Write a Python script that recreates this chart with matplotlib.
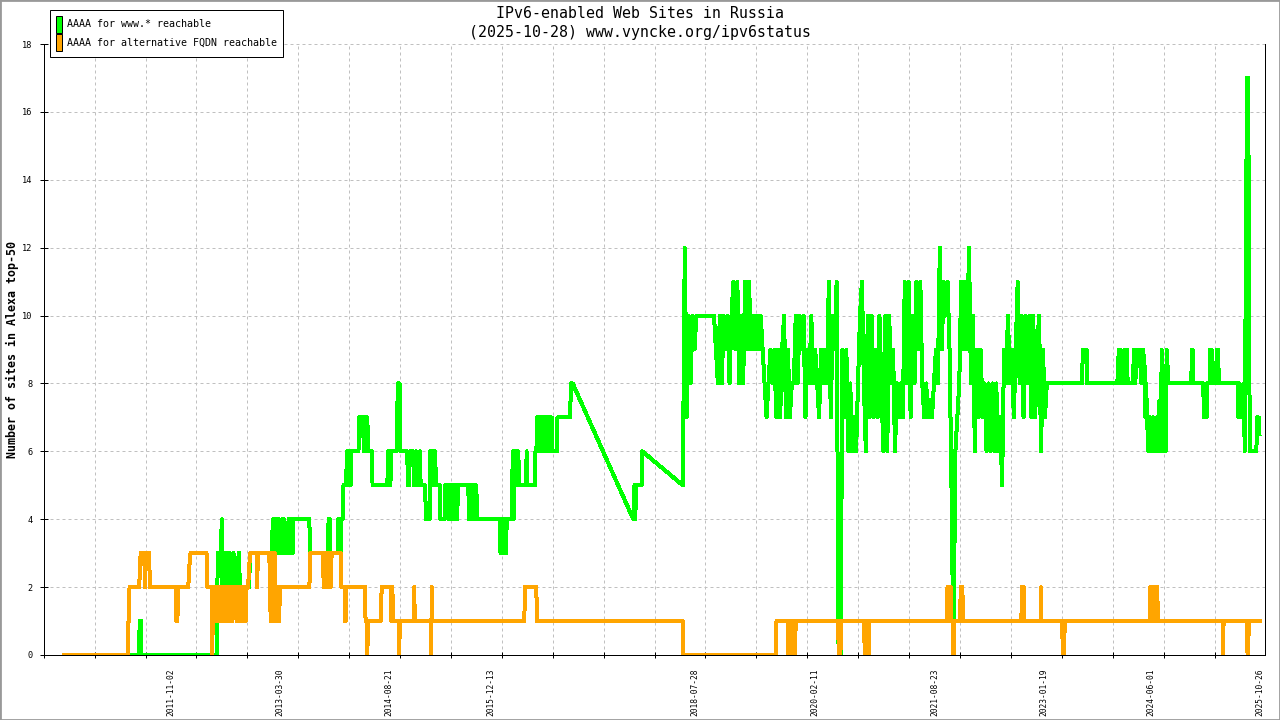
import numpy as np
import pandas as pd
import matplotlib
matplotlib.use('Agg')
import matplotlib.pyplot as plt
from matplotlib.patches import Patch, Rectangle
from matplotlib.ticker import FixedLocator, NullFormatter

plt.rcParams['font.family'] = ['DejaVu Sans Mono', 'DejaVu Sans']

# time is in decimal years
# green: AAAA for www.* reachable, 2010 -> start of 2018 (gap 2017-2018 is a straight line)
green_2010_2018 = [
    (2010.463, 0), (2011.423, 0), (2011.429, 0.5), (2011.439, 1), (2011.452, 1), (2011.456, 0),
    (2012.425, 0), (2012.438, 3), (2012.480, 3), (2012.489, 4), (2012.497, 2),
    (2012.512, 3), (2012.525, 2), (2012.538, 3), (2012.551, 2), (2012.564, 3), (2012.577, 2),
    (2012.596, 3), (2012.609, 2), (2012.641, 3), (2012.647, 2), (2012.699, 2), (2012.705, 3),
    (2012.715, 3), (2012.719, 2), (2012.840, 2), (2012.853, 3),
    (2013.135, 3), (2013.144, 4), (2013.154, 3), (2013.165, 4), (2013.175, 3), (2013.185, 4),
    (2013.195, 3), (2013.206, 4), (2013.216, 3), (2013.225, 4), (2013.232, 3), (2013.264, 3),
    (2013.270, 4), (2013.290, 4), (2013.296, 3), (2013.341, 3), (2013.347, 4), (2013.358, 3),
    (2013.368, 4), (2013.378, 3), (2013.388, 4), (2013.399, 3), (2013.409, 4), (2013.615, 4),
    (2013.620, 3), (2013.855, 3), (2013.861, 4), (2013.881, 4), (2013.885, 3), (2013.980, 3),
    (2013.987, 4), (2013.996, 3), (2014.006, 4), (2014.017, 3), (2014.027, 4), (2014.042, 4),
    (2014.053, 5), (2014.089, 5), (2014.094, 6), (2014.104, 5), (2014.114, 6), (2014.125, 5),
    (2014.135, 6), (2014.145, 5), (2014.156, 6), (2014.245, 6), (2014.252, 7), (2014.303, 7),
    (2014.314, 6), (2014.324, 7), (2014.334, 6), (2014.345, 7), (2014.359, 7), (2014.368, 6),
    (2014.415, 6), (2014.426, 5), (2014.616, 5), (2014.625, 6), (2014.635, 5), (2014.645, 6),
    (2014.655, 5), (2014.666, 6), (2014.734, 6), (2014.740, 7), (2014.753, 8), (2014.772, 8),
    (2014.783, 6), (2014.872, 6), (2014.879, 5), (2014.897, 5), (2014.903, 6), (2014.950, 6),
    (2014.956, 5), (2014.982, 5), (2014.987, 6), (2014.994, 5), (2015.028, 5), (2015.035, 6),
    (2015.043, 5), (2015.103, 5), (2015.109, 4), (2015.161, 4), (2015.167, 6), (2015.178, 5),
    (2015.188, 6), (2015.198, 5), (2015.208, 6), (2015.219, 5), (2015.229, 6), (2015.240, 5),
    (2015.292, 5), (2015.298, 4), (2015.352, 4), (2015.358, 5), (2015.398, 5), (2015.404, 4),
    (2015.424, 5), (2015.430, 4), (2015.449, 5), (2015.456, 4), (2015.478, 5), (2015.484, 4),
    (2015.503, 5), (2015.510, 4), (2015.527, 5), (2015.655, 5), (2015.665, 4), (2015.676, 5),
    (2015.686, 4), (2015.696, 5), (2015.706, 4), (2015.717, 5), (2015.727, 4), (2015.737, 5),
    (2015.747, 4), (2015.758, 5), (2015.768, 4), (2015.784, 4), (2016.062, 4), (2016.069, 3),
    (2016.080, 4), (2016.090, 3), (2016.100, 4), (2016.110, 3), (2016.121, 4), (2016.131, 3),
    (2016.141, 3), (2016.148, 4), (2016.212, 4), (2016.218, 5), (2016.229, 6), (2016.239, 4),
    (2016.249, 6), (2016.260, 5), (2016.270, 6), (2016.280, 5), (2016.293, 5), (2016.298, 6),
    (2016.306, 5), (2016.399, 5), (2016.404, 6), (2016.414, 5), (2016.511, 5), (2016.517, 6),
    (2016.530, 6), (2016.539, 7), (2016.549, 6), (2016.560, 7), (2016.570, 6), (2016.580, 7),
    (2016.590, 6), (2016.601, 7), (2016.611, 6), (2016.621, 7), (2016.632, 6), (2016.642, 7),
    (2016.652, 6), (2016.663, 7), (2016.673, 6), (2016.684, 7), (2016.694, 6), (2016.705, 7),
    (2016.715, 6), (2016.726, 7), (2016.736, 6), (2016.793, 6), (2016.800, 7), (2016.964, 7),
    (2016.972, 8), (2016.996, 8),
    (2017.774, 4), (2017.783, 4), (2017.789, 5), (2017.800, 4), (2017.809, 5), (2017.882, 5),
    (2017.890, 6), (2018.408, 5),
]

# green, busy period mid 2018 -> early 2023, one reading every 0.025 year
green_busy_start = 2018.41
green_busy_step = 0.025
green_busy = [
    5, 12, 7, 10, 8, 10, 9, 10, 10, 10,
    10, 10, 10, 10, 10, 10, 10, 9, 8, 10,
    8, 10, 9, 10, 8, 10, 11, 9, 11, 8,
    10, 8, 11, 9, 11, 9, 10, 9, 10, 9,
    10, 9, 8, 7, 8, 9, 8, 9, 7, 9,
    7, 9, 10, 7, 9, 7, 8, 8, 10, 8,
    10, 9, 10, 7, 9, 8, 10, 8, 9, 8,
    7, 9, 8, 9, 8, 11, 7, 10, 9, 11,
    0, 0, 9, 7, 9, 6, 8, 6, 7, 6,
    8, 10, 11, 8, 6, 10, 7, 10, 7, 9,
    7, 10, 8, 6, 10, 6, 10, 8, 9, 6,
    8, 7, 8, 7, 11, 8, 11, 7, 10, 8,
    11, 9, 11, 8, 7, 8, 7, 7.5, 7, 8,
    9, 8, 12, 9, 11, 10, 11, 9, 5, 0,
    6, 7, 8, 11, 9, 11, 9, 12, 8, 10,
    6, 9, 7, 9, 7, 8, 6, 8, 6, 8,
    6, 8, 6, 7, 5, 9, 8, 10, 8, 9,
    7, 9, 11, 8, 10, 7, 10, 8, 10, 7,
    10, 7, 9, 10, 6, 9, 7, 8,
]

# green, 2023 -> 2025-10-28
green_2023_2025 = [
    (2023.539, 8), (2023.545, 9), (2023.596, 9), (2023.602, 8),
    (2023.990, 8), (2023.998, 8.5), (2024.010, 9), (2024.032, 9), (2024.040, 8),
    (2024.087, 8), (2024.090, 9), (2024.114, 9), (2024.117, 8.5), (2024.122, 8),
    (2024.194, 8), (2024.200, 9), (2024.220, 8), (2024.240, 9), (2024.260, 8.5),
    (2024.280, 9), (2024.300, 8), (2024.320, 9), (2024.340, 8.5),
    (2024.350, 7), (2024.360, 8), (2024.370, 7), (2024.390, 6), (2024.410, 7),
    (2024.430, 6), (2024.450, 7), (2024.470, 6), (2024.490, 7), (2024.510, 6),
    (2024.530, 7.5), (2024.550, 6), (2024.559, 9), (2024.570, 6), (2024.590, 7),
    (2024.610, 6), (2024.623, 9), (2024.635, 8.5), (2024.645, 8),
    (2024.940, 8), (2024.946, 9), (2024.955, 9), (2024.960, 8),
    (2025.094, 8), (2025.100, 7), (2025.135, 7), (2025.140, 8),
    (2025.175, 8), (2025.180, 9), (2025.200, 9), (2025.206, 8),
    (2025.260, 8), (2025.265, 9), (2025.285, 9), (2025.292, 8),
    (2025.540, 8), (2025.545, 7), (2025.560, 8), (2025.575, 7), (2025.590, 7.5),
    (2025.600, 7), (2025.615, 8), (2025.625, 6), (2025.640, 11.5), (2025.655, 17),
    (2025.670, 17), (2025.680, 11.5), (2025.690, 6), (2025.775, 6), (2025.785, 7),
    (2025.805, 7), (2025.815, 6.5),
]

# orange: AAAA for alternative FQDN reachable
orange_pts = [
    (2010.463, 0), (2011.289, 0), (2011.292, 1), (2011.301, 1), (2011.305, 2), (2011.430, 2),
    (2011.437, 2.5), (2011.448, 3), (2011.494, 3), (2011.503, 2), (2011.516, 3), (2011.558, 3),
    (2011.565, 2), (2011.900, 2), (2011.907, 1), (2011.920, 1), (2011.927, 2), (2012.060, 2),
    (2012.069, 2.5), (2012.088, 3), (2012.294, 3), (2012.304, 2), (2012.358, 2), (2012.365, 0),
    (2012.374, 1), (2012.384, 2), (2012.394, 1), (2012.403, 2), (2012.416, 1), (2012.429, 2),
    (2012.441, 1), (2012.454, 2), (2012.467, 1), (2012.480, 2), (2012.493, 1), (2012.506, 2),
    (2012.519, 1), (2012.531, 2), (2012.544, 1), (2012.557, 2), (2012.589, 2), (2012.596, 1),
    (2012.609, 2), (2012.621, 1), (2012.634, 2), (2012.673, 2), (2012.679, 1), (2012.692, 2),
    (2012.705, 1), (2012.718, 2), (2012.737, 2), (2012.743, 1), (2012.756, 2), (2012.769, 1),
    (2012.782, 2), (2012.795, 1), (2012.808, 2), (2012.827, 2), (2012.853, 3), (2012.938, 3),
    (2012.942, 2), (2012.955, 3), (2013.100, 3), (2013.109, 2), (2013.118, 1), (2013.128, 3),
    (2013.139, 1), (2013.149, 3), (2013.159, 1), (2013.170, 3), (2013.180, 1), (2013.190, 2),
    (2013.200, 1), (2013.212, 2), (2013.225, 1), (2013.238, 2), (2013.615, 2), (2013.624, 3),
    (2013.791, 3), (2013.798, 2), (2013.808, 3), (2013.818, 2), (2013.829, 3), (2013.839, 2),
    (2013.849, 3), (2013.860, 2), (2013.872, 3), (2013.890, 2), (2013.900, 3), (2014.017, 3),
    (2014.025, 2), (2014.066, 2), (2014.073, 1), (2014.082, 1), (2014.088, 2), (2014.330, 2),
    (2014.336, 1), (2014.353, 1), (2014.359, 0), (2014.366, 1), (2014.529, 1), (2014.535, 1.5),
    (2014.544, 2), (2014.660, 2), (2014.666, 1), (2014.680, 2), (2014.689, 1), (2014.762, 1),
    (2014.769, 0), (2014.775, 1), (2014.955, 1), (2014.961, 2), (2014.968, 1), (2015.173, 1),
    (2015.178, 0), (2015.187, 2), (2015.196, 1), (2016.375, 1), (2016.382, 2), (2016.529, 2),
    (2016.536, 1), (2018.408, 1), (2018.414, 0), (2019.606, 0), (2019.613, 1), (2019.758, 1),
    (2019.767, 0), (2019.777, 1), (2019.788, 0), (2019.798, 1), (2019.808, 0), (2019.819, 1),
    (2019.829, 0), (2019.839, 1), (2019.849, 0), (2019.860, 1), (2020.402, 1), (2020.408, 0.5),
    (2020.421, 0), (2020.434, 0), (2020.440, 1), (2020.740, 1), (2020.745, 0), (2020.753, 1),
    (2020.765, 0.5), (2020.778, 1), (2020.791, 1), (2020.796, 0), (2020.803, 1), (2021.803, 1),
    (2021.809, 2), (2021.820, 1), (2021.830, 2), (2021.840, 1), (2021.850, 2), (2021.858, 1),
    (2021.873, 1), (2021.879, 0), (2021.889, 0), (2021.896, 1), (2021.972, 1), (2021.978, 2),
    (2022.000, 2), (2022.006, 1), (2022.758, 1), (2022.763, 2), (2022.788, 2), (2022.793, 1),
    (2023.005, 1), (2023.009, 2), (2023.015, 1), (2023.283, 1), (2023.288, 0), (2023.308, 0),
    (2023.313, 1), (2024.405, 1), (2024.411, 2), (2024.421, 1), (2024.432, 2), (2024.442, 1),
    (2024.452, 2), (2024.462, 1), (2024.473, 2), (2024.483, 1), (2024.493, 2), (2024.503, 2),
    (2024.509, 1), (2025.342, 1), (2025.347, 0), (2025.354, 1), (2025.653, 1), (2025.658, 0.5),
    (2025.662, 0), (2025.672, 0.5), (2025.688, 1), (2025.817, 1),
]

tick_dates = ['2011-11-02', '2013-03-30', '2014-08-21', '2015-12-13', '2018-07-28',
              '2020-02-11', '2021-08-23', '2023-01-19', '2024-06-01', '2025-10-26']

series_names = ['AAAA for www.* reachable', 'AAAA for alternative FQDN reachable']
green = '#00ff00'
orange = '#ffa500'


def dec_year(s):
    d = pd.Timestamp(s)
    y0 = pd.Timestamp(year=d.year, month=1, day=1)
    y1 = pd.Timestamp(year=d.year + 1, month=1, day=1)
    return d.year + (d - y0) / (y1 - y0)


busy_t = green_busy_start + green_busy_step * np.arange(len(green_busy))
g_t = [p[0] for p in green_2010_2018] + list(busy_t) + [p[0] for p in green_2023_2025]
g_v = [p[1] for p in green_2010_2018] + green_busy + [p[1] for p in green_2023_2025]
o_t = [p[0] for p in orange_pts]
o_v = [p[1] for p in orange_pts]

W, H = 1280, 720
fig = plt.figure(figsize=(W / 100, H / 100), dpi=100)
ax = fig.add_axes([43.7 / W, 1 - 655 / H, (1265 - 43.7) / W, (655 - 44) / H])

lw = 3 * 0.72
ax.plot(g_t, g_v, color=green, lw=lw, solid_joinstyle='round', antialiased=False, zorder=3)
ax.plot(o_t, o_v, color=orange, lw=lw, solid_joinstyle='round', antialiased=False, zorder=4)

xmin, xmax = 2010.203, 2025.886
ax.set_xlim(xmin, xmax)
ax.set_ylim(0, 18)

# labelled ticks sit on data dates, plain ticks + grid on a regular step
ax.xaxis.set_major_locator(FixedLocator([dec_year(d) for d in tick_dates]))
ax.set_xticklabels(tick_dates, rotation=90, fontsize=5.7)
ax.xaxis.set_minor_locator(FixedLocator(np.arange(xmin, xmax, 0.6537)))
ax.xaxis.set_minor_formatter(NullFormatter())
ax.tick_params(axis='x', which='major', length=0, pad=9.4)
ax.tick_params(axis='x', which='minor', direction='inout', length=5, width=0.72)
ax.set_yticks(np.arange(0, 19, 2))
ax.tick_params(axis='y', direction='inout', length=5.8, width=0.72, labelsize=6.2, pad=5.0)

ax.grid(which='minor', axis='x', color='#c0c0c0', lw=0.72, ls=(0, (3, 3)))
ax.grid(which='major', axis='y', color='#c0c0c0', lw=0.72, ls=(0, (3, 3)))
ax.set_axisbelow(True)

ax.spines['top'].set_visible(False)
for s in ['left', 'bottom', 'right']:
    ax.spines[s].set_linewidth(0.72)

fig.text(0.5, 1 - 13.3 / H, 'IPv6-enabled Web Sites in Russia', ha='center', va='center', fontsize=10.7)
fig.text(0.5, 1 - 32.3 / H, '(2025-10-28) www.vyncke.org/ipv6status', ha='center', va='center', fontsize=10.7)
fig.text(12 / W, 0.514, 'Number of sites in Alexa top-50', rotation=90, ha='center', va='center',
         fontsize=8.4, fontweight='bold')

handles = [Patch(facecolor=green, edgecolor='black', lw=0.72),
           Patch(facecolor=orange, edgecolor='black', lw=0.72)]
leg = fig.legend(handles, series_names, loc='upper left', bbox_to_anchor=(50.3 / W, 1 - 10.3 / H),
                 fontsize=7.2, handlelength=0.6, handleheight=2.19, handletextpad=0.5,
                 labelspacing=0.16, borderpad=0.57, borderaxespad=0, fancybox=False, framealpha=1)
leg.get_frame().set_edgecolor('black')
leg.get_frame().set_linewidth(0.72)

fig.add_artist(Rectangle((0, 0), 1, 1, transform=fig.transFigure, fill=False,
                         edgecolor='#999999', lw=2))

fig.savefig('out.png', dpi=100)
